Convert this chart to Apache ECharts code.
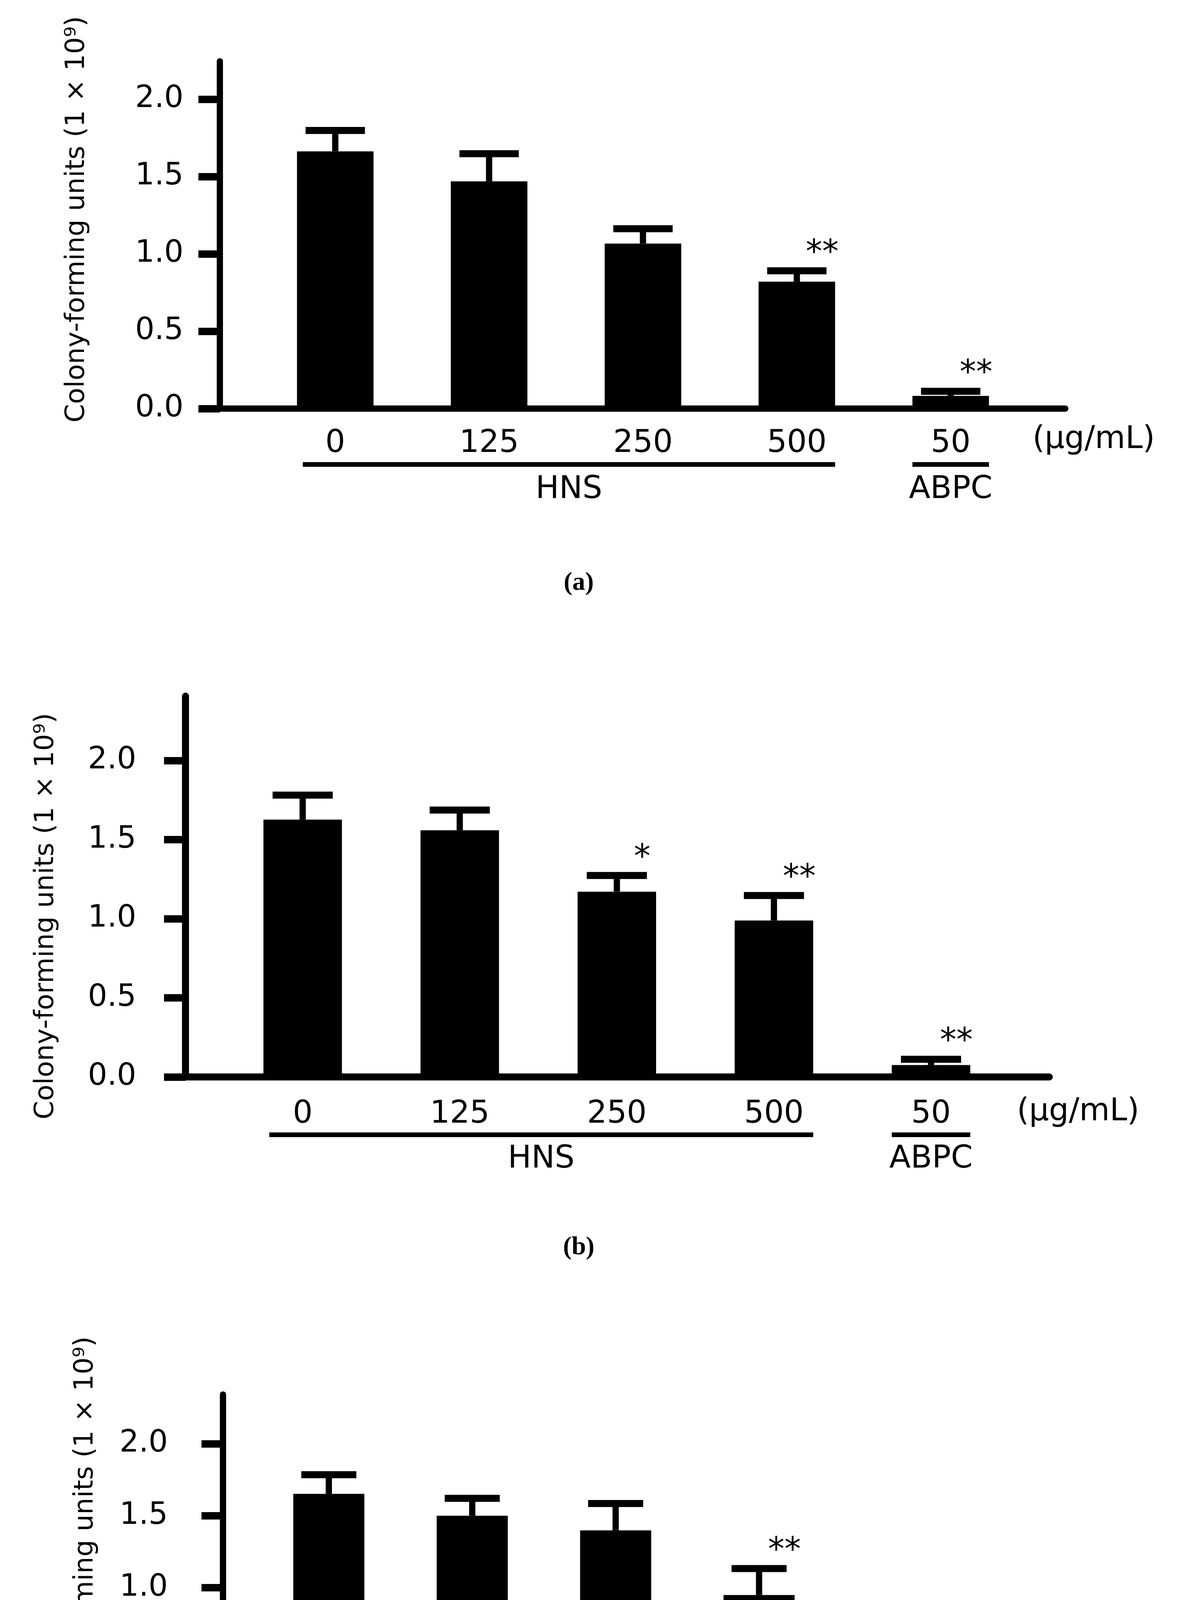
<!DOCTYPE html>
<html><head><meta charset="utf-8">
<script src="https://cdn.jsdelivr.net/npm/echarts@6/dist/echarts.min.js"></script>
<style>html,body{margin:0;padding:0;background:#fff}#c{width:3014px;height:4929px}</style>
</head><body><div id="c"></div>
<script>
// ---- data ----
const doses = ['0', '125', '250', '500', '50'];
const groupNames = ['HNS', 'ABPC'];
const groupRanges = [[0, 3], [4, 4]];
const yTickValues = [0, 0.5, 1.0, 1.5, 2.0];
const unitLabel = '(μg/mL)';
const yTitle = 'Colony-forming units (1 × 10⁹)';

const meanA = [1.663, 1.469, 1.067, 0.821, 0.082];
const errA  = [1.798, 1.648, 1.163, 0.891, 0.112];
const sigA  = ['', '', '', '**', '**'];

const meanB = [1.626, 1.559, 1.171, 0.989, 0.075];
const errB  = [1.781, 1.687, 1.273, 1.147, 0.112];
const sigB  = ['', '', '*', '**', '**'];

const meanC = [1.652, 1.500, 1.398, 0.949, 0.088];
const errC  = [1.785, 1.621, 1.585, 1.133, 0.124];
const sigC  = ['', '', '', '**', '**'];

const captions = ['(a)', '(b)', '(c)'];

// ---- layout ----
const panels = [
  {mean: meanA, err: errA, sig: sigA,
   grid: {left: 563, top: 157, width: 2165, height: 889},
   xMin: -0.75, xMax: 4.745, yMax: 2.245, barW: 196, capW: 152, axisW: 16,
   yLabelMargin: 93, xLabelMargin: 50, nameGap: 332, namePad: [0, 0, 0, 80],
   unitGap: -84, unitY: 80, ulY: 143, grpTextY: 208, capY: 1493},
  {mean: meanB, err: errB, sig: sigB,
   grid: {left: 475, top: 1782, width: 2212, height: 975},
   xMin: -0.746, xMax: 4.753, yMax: 2.407, barW: 201, capW: 154, axisW: 18,
   yLabelMargin: 126, xLabelMargin: 56, nameGap: 323, namePad: [0, 152, 0, 0],
   unitGap: -83, unitY: 90, ulY: 148, grpTextY: 211, capY: 3194},
  {mean: meanC, err: errC, sig: sigC,
   grid: {left: 571, top: 3570, width: 2014, height: 863},
   xMin: -0.738, xMax: 4.746, yMax: 2.342, barW: 182, capW: 141, axisW: 16,
   yLabelMargin: 141, xLabelMargin: 46, nameGap: 318, namePad: [0, 0, 0, 120],
   unitGap: -77, unitY: 81, ulY: 137, grpTextY: 195, capY: 4864}
];

const FONT = '"DejaVu Sans", Verdana, sans-serif';
const chart = echarts.init(document.getElementById('c'), null, {renderer: 'canvas'});

const grids = [], xAxes = [], yAxes = [], series = [];
panels.forEach((p, k) => {
  grids.push(Object.assign({containLabel: false}, p.grid));
  xAxes.push({
    type: 'value', gridIndex: k, min: p.xMin, max: p.xMax,
    splitLine: {show: false}, axisTick: {show: false},
    axisLine: {show: true, onZero: false, lineStyle: {color: '#000', width: p.axisW}},
    axisLabel: {
      customValues: doses.map((d, i) => i),
      formatter: v => doses[Math.round(v)],
      margin: p.xLabelMargin, fontSize: 80, color: '#000', fontFamily: FONT
    }
  });
  yAxes.push({
    type: 'value', gridIndex: k, min: 0, max: p.yMax,
    splitLine: {show: false},
    axisLine: {show: true, onZero: false, lineStyle: {color: '#000', width: p.axisW}},
    axisTick: {show: true, inside: false, length: 55, customValues: yTickValues,
      lineStyle: {color: '#000', width: 19}},
    axisLabel: {customValues: yTickValues, formatter: v => v.toFixed(1),
      margin: p.yLabelMargin, fontSize: 78, color: '#000', fontFamily: FONT},
    name: yTitle, nameLocation: 'middle', nameRotate: 90, nameGap: p.nameGap,
    nameTextStyle: {fontSize: 68, color: '#000', fontFamily: FONT, padding: p.namePad}
  });
  // bars
  series.push({
    type: 'bar', xAxisIndex: k, yAxisIndex: k, barWidth: p.barW, silent: true,
    itemStyle: {color: '#000'},
    data: p.mean.map((v, i) => [i, v])
  });
  // error bars + significance marks
  series.push({
    type: 'custom', xAxisIndex: k, yAxisIndex: k, silent: true, clip: false, z: 3,
    data: p.mean.map((v, i) => [i, v, p.err[i]]),
    renderItem: (params, api) => {
      const i = params.dataIndex;
      const b = api.coord([api.value(0), api.value(1)]);
      const t = api.coord([api.value(0), api.value(2)]);
      const ch = [
        {type: 'line', shape: {x1: b[0], y1: b[1], x2: t[0], y2: t[1]},
         style: {stroke: '#000', lineWidth: 16}},
        {type: 'line', shape: {x1: t[0] - p.capW / 2, y1: t[1], x2: t[0] + p.capW / 2, y2: t[1]},
         style: {stroke: '#000', lineWidth: 18}}
      ];
      if (p.sig[i]) {
        ch.push({type: 'text', x: t[0] + 65, y: t[1] - 43,
          style: {text: p.sig[i], font: '84px ' + FONT, fill: '#000',
            align: 'center', verticalAlign: 'middle'}});
      }
      return {type: 'group', children: ch};
    }
  });
  // group underlines, group names and the unit label
  series.push({
    type: 'custom', xAxisIndex: k, yAxisIndex: k, silent: true, clip: false, z: 3,
    data: groupRanges.map(r => [r[0], r[1]]),
    renderItem: (params, api) => {
      const i = params.dataIndex;
      const s = api.coord([api.value(0), 0]);
      const e = api.coord([api.value(1), 0]);
      const x1 = s[0] - p.barW / 2 + (i === 0 ? 15 : 0), x2 = e[0] + p.barW / 2;
      const y = s[1] + p.ulY;
      const ch = [
        {type: 'line', shape: {x1: x1, y1: y, x2: x2, y2: y}, style: {stroke: '#000', lineWidth: 12}},
        {type: 'text', x: (x1 + x2) / 2, y: s[1] + p.grpTextY,
         style: {text: groupNames[i], font: '80px ' + FONT, fill: '#000',
           align: 'center', verticalAlign: 'middle'}}
      ];
      if (i === groupRanges.length - 1) {
        const end = api.coord([p.xMax, 0]);
        ch.push({type: 'text', x: end[0] + p.unitGap, y: end[1] + p.unitY,
          style: {text: unitLabel, font: '80px ' + FONT, fill: '#000',
            align: 'left', verticalAlign: 'middle'}});
      }
      return {type: 'group', children: ch};
    }
  });
});

chart.setOption({
  animation: false,
  backgroundColor: '#fff',
  textStyle: {fontFamily: FONT},
  grid: grids, xAxis: xAxes, yAxis: yAxes, series: series,
  graphic: panels.map((p, k) => ({
    type: 'text', x: 1482, y: p.capY,
    style: {text: captions[k], font: 'bold 66px "Liberation Serif", serif', fill: '#000',
      align: 'center', verticalAlign: 'middle'}
  }))
});
</script></body></html>
